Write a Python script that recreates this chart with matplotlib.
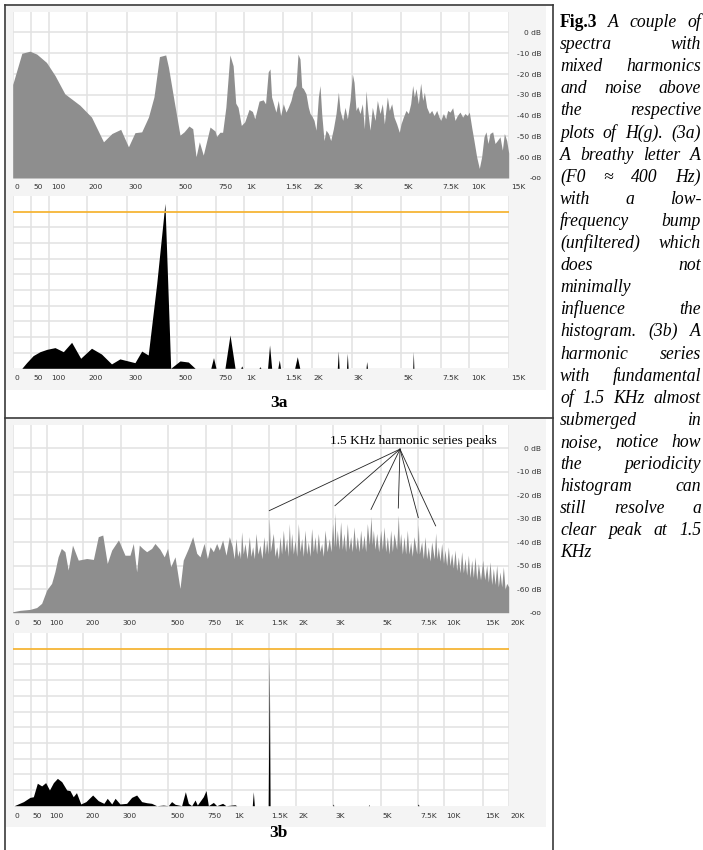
import matplotlib
matplotlib.use("Agg")
import matplotlib.pyplot as plt
import matplotlib.transforms as mtrans
import numpy as np
from matplotlib.patches import Rectangle

W, H = 703, 850

# analyser frequency grid: tick frequency (Hz) and its position across the plot (px)
ticks_a_hz = [0, 50, 100, 200, 300, 500, 750, 1000, 1500, 2000, 3000, 5000, 7500, 10000, 15000]
ticks_a_pos = [0, 18.3, 36.3, 74, 114, 164, 203.3, 231.3, 270.6, 299, 339, 388.3, 428, 456.6, 496]
ticks_a_lbl = ['0', '50', '100', '200', '300', '500', '750', '1K', '1.5K', '2K', '3K', '5K',
               '7.5K', '10K', '15K']

ticks_b_hz = [0, 50, 100, 200, 300, 500, 750, 1000, 1500, 2000, 3000, 5000, 7500, 10000, 15000, 20000]
ticks_b_pos = [0, 18, 34.6, 70.6, 108, 155.6, 193, 219.6, 256.6, 283.3, 320.6, 368, 405.6, 431.3,
               470, 496]
ticks_b_lbl = ['0', '50', '100', '200', '300', '500', '750', '1K', '1.5K', '2K', '3K', '5K',
               '7.5K', '10K', '15K', '20K']

db_ticks = [0, -10, -20, -30, -40, -50, -60]
db_labels = ['0 dB', '-10 dB', '-20 dB', '-30 dB', '-40 dB', '-50 dB', '-60 dB']

# (3a) breathy "A" spectrum
spec_a_hz = [0, 25, 47, 66, 93, 116, 142, 182, 212, 242,
             263, 285, 307, 333, 360, 387, 409, 431, 456, 467,
             487, 521, 547, 578, 602, 623, 644, 669, 712, 744,
             756, 785, 809, 838, 874, 903, 926, 947, 976, 1009,
             1064, 1107, 1137, 1192, 1244, 1274, 1308, 1331, 1351, 1381,
             1406, 1436, 1466, 1500, 1547, 1588, 1635, 1676, 1724, 1759,
             1794, 1824, 1853, 1900, 1941, 1971, 2000, 2058, 2108, 2167,
             2208, 2250, 2308, 2358, 2417, 2475, 2542, 2608, 2667, 2708,
             2775, 2833, 2892, 2958, 3027, 3095, 3176, 3243, 3338, 3432,
             3514, 3581, 3649, 3743, 3838, 3946, 4041, 4149, 4243, 4324,
             4446, 4527, 4622, 4716, 4824, 4932, 5000, 5147, 5315, 5462,
             5609, 5735, 5840, 5945, 6092, 6239, 6366, 6471, 6618, 6786,
             6933, 7080, 7248, 7395, 7500, 7733, 7936, 8110, 8314, 8547,
             8750, 8953, 9186, 9419, 9622, 9826, 10000, 10297, 10593, 10932,
             11271, 11568, 11864, 12119, 12373, 12627, 12966, 13263, 13559, 13898,
             14195, 14449, 14746, 15000]
spec_a_db = [-25, -10, -9, -10.4, -14.4, -20.7, -29.5, -35, -40.7, -52.6,
             -48.6, -46.6, -55, -48.2, -47.8, -40.7, -31, -11.6, -10.8, -16.7,
             -31, -49.4, -47.8, -45, -46.3, -59.8, -52.6, -59, -45.5, -47.4,
             -50, -48, -48, -36, -10.8, -16, -34, -36, -44.7, -43,
             -37, -38, -41.5, -33, -32.4, -34.3, -19, -17.5, -31, -35,
             -38.3, -32.7, -40, -34.3, -38.3, -36, -32.7, -28, -25.5, -10.4,
             -12.8, -26.3, -27, -29.5, -36, -39, -40, -42.3, -47, -31,
             -25.5, -39, -52, -47, -48.6, -52, -46.3, -39, -28.7, -37.5,
             -42.3, -36, -41.5, -32.7, -20, -24, -37.5, -35.6, -39, -34.3,
             -46.3, -28, -37.5, -47, -36, -42.3, -32.7, -39, -34.3, -44,
             -31, -37.5, -34.3, -40.7, -44, -48, -44, -40.7, -37.5, -39,
             -34.3, -25.5, -31, -27, -34.3, -24.4, -32.7, -28.7, -36, -39,
             -37.5, -40, -37.5, -40.7, -42.3, -39, -41.5, -37.5, -38.3, -36.2,
             -42.3, -40, -38.3, -40.7, -39, -40, -38.3, -45.5, -52, -59.8,
             -65.4, -59.8, -50.2, -47.8, -53.4, -48.6, -47.8, -53.4, -52, -50.2,
             -56.6, -48.6, -52, -58]

# (3a) periodicity histogram H(g)
hist_a_hz = [0, 25, 38, 56, 75, 94, 116, 138, 160, 184,
             212, 237, 262, 283, 333, 360, 386, 420, 453, 476,
             521, 574, 617, 717, 734, 750, 830, 875, 920, 970,
             980, 990, 1190, 1204, 1215, 1300, 1325, 1352, 1430, 1449,
             1465, 1700, 1746, 1790, 2640, 2665, 2685, 2870, 2890, 2910,
             3580, 3608, 3640, 5740, 5775, 5810, 15000]
hist_a_val = [0, 0, 0.036, 0.081, 0.106, 0.121, 0.132, 0.106, 0.166, 0.064,
              0.128, 0.091, 0.028, 0.06, 0.036, 0.11, 0.085, 0.54, 1.053, 0,
              0.047, 0.04, 0, 0, 0.068, 0, 0, 0.213, 0, 0,
              0.015, 0, 0, 0.01, 0, 0, 0.149, 0, 0, 0.053,
              0, 0, 0.074, 0, 0, 0.11, 0, 0, 0.096, 0,
              0, 0.043, 0, 0, 0.106, 0, 0]

# (3b) 1.5 KHz harmonic series in noise
spec_b_hz = [0, 20, 48, 68, 83, 98, 112, 121, 130, 139,
             149, 158, 170, 186, 209, 227, 240, 252, 264, 276,
             294, 318, 339, 353, 367, 378, 392, 409, 430, 444,
             465, 483, 497, 516, 545, 578, 600, 634, 663, 690,
             712, 739, 766, 791, 822, 853, 878, 909, 941, 972,
             1000, 1025, 1050, 1072, 1095, 1110, 1126, 1148, 1171, 1200,
             1230, 1252, 1275, 1298, 1320, 1347, 1374, 1400, 1428, 1446,
             1464, 1485, 1500, 1520, 1575, 1606, 1638, 1670, 1700, 1730,
             1763, 1795, 1825, 1850, 1875, 1897, 1919, 1950, 1981, 2020,
             2063, 2108, 2152, 2196, 2241, 2285, 2330, 2375, 2420, 2465,
             2509, 2553, 2598, 2643, 2688, 2732, 2777, 2835, 2893, 2937,
             2982, 3030, 3070, 3115, 3169, 3240, 3310, 3380, 3451, 3520,
             3592, 3660, 3732, 3800, 3873, 3943, 4014, 4085, 4155, 4225,
             4296, 4366, 4437, 4520, 4590, 4640, 4690, 4760, 4831, 4915,
             5000, 5110, 5221, 5330, 5442, 5553, 5664, 5775, 5885, 6060,
             6170, 6250, 6327, 6440, 6549, 6660, 6770, 6880, 6991, 7100,
             7212, 7400, 7500, 7600, 7825, 7990, 8149, 8310, 8474, 8640,
             8799, 9050, 9190, 9320, 9448, 9610, 9773, 9950, 10129, 10345,
             10560, 10775, 10991, 11206, 11422, 11637, 11853, 12068, 12284, 12500,
             12716, 12930, 13147, 13360, 13578, 13790, 14009, 14225, 14440, 14720,
             15000, 15385, 15769, 16090, 16410, 16730, 17051, 17370, 17692, 18010,
             18333, 18650, 18974, 19300, 19615, 20000]
spec_b_db = [-69.6, -69, -68.6, -67.8, -66, -60.4, -57.5, -52.6, -46.2, -42.6,
             -44, -51.8, -41.2, -47.6, -46.9, -47.3, -37.6, -36.9, -49, -43.3,
             -39, -45.5, -45.5, -40.5, -52.6, -41.2, -42.6, -44, -42.6, -40.5,
             -43, -46.2, -42.6, -50.4, -46.2, -59.7, -47.6, -42.6, -37.6, -44.7,
             -46.2, -40.5, -46.9, -41.9, -44, -40.5, -43.3, -39, -45.5, -37.6,
             -41.9, -47, -38.4, -46, -43.3, -47, -35.5, -45, -40.5, -47,
             -37.6, -46, -41.9, -47, -36.2, -45, -41.2, -47, -37.6, -45,
             -39, -45, -29.5, -44, -36.2, -46, -41.9, -47, -37.6, -45,
             -34.8, -44, -38.4, -46, -32, -44, -36.2, -45, -39, -46,
             -32, -44, -38.4, -46, -34.8, -45, -39.8, -46, -34.1, -44,
             -37.6, -45, -36.2, -44, -40.5, -46, -34.8, -44, -38.4, -44,
             -32, -42, -27.4, -42, -34.8, -43, -31.2, -43, -36.2, -44,
             -32, -43, -37.6, -44, -33.4, -43, -37.6, -44, -34.8, -43,
             -36.9, -44, -32, -41, -29, -41, -34.8, -43, -36.2, -44,
             -34.8, -43, -33.4, -44, -37.6, -45, -34.8, -44, -36.2, -43,
             -28.4, -42, -36.2, -45, -37.6, -45, -34.8, -45, -39.8, -46,
             -37.6, -45, -32.5, -45, -39.8, -47, -37.6, -47, -41.9, -48,
             -39.8, -47, -36, -47, -41.9, -48, -40.5, -49, -43.3, -50,
             -41.9, -50, -44.7, -51, -43.3, -52, -46.2, -53, -44, -53,
             -46.9, -54, -45.5, -55, -47.6, -55, -46.2, -56, -49, -56,
             -47.6, -56, -49.7, -57, -48.3, -58, -51.1, -58, -49.7, -59,
             -52.6, -59, -50.4, -60, -57.5, -59]

# harmonics pointed at by the annotation
peaks_b_hz = [1500, 3070, 4590, 6170, 7500, 9190]
peaks_b_db = [-29.5, -27.4, -29, -28.4, -32.5, -36]

hist_b_hz = [0, 4, 30, 48, 58, 70, 83, 95, 106, 117,
             128, 140, 154, 163, 172, 181, 193, 207, 225, 240,
             255, 264, 276, 285, 298, 325, 346, 367, 388, 409,
             430, 451, 479, 500, 522, 545, 589, 614, 634, 656,
             679, 694, 734, 753, 775, 822, 853, 909, 940, 1036,
             1060, 1270, 1284, 1298, 1485, 1500, 1515, 2980, 3000, 3020,
             4480, 4500, 4520, 7440, 7500, 7560, 20000]
hist_b_val = [0, 0, 0.026, 0.053, 0.057, 0.143, 0.126, 0.147, 0.1, 0.147,
              0.174, 0.153, 0.1, 0.096, 0.057, 0.083, 0.011, 0.026, 0.068, 0.032,
              0.015, 0.047, 0.011, 0.047, 0.011, 0.015, 0.053, 0.068, 0.026, 0.019,
              0.015, 0, 0.004, 0, 0.026, 0.009, 0, 0.089, 0.015, 0,
              0.036, 0.004, 0.057, 0.096, 0, 0.021, 0, 0.015, 0, 0.006,
              0, 0, 0.089, 0, 0, 0.951, 0, 0, 0.011, 0,
              0, 0.008, 0, 0, 0.011, 0, 0]

caption = [
    "Fig.3 A couple of", "spectra with", "mixed harmonics", "and noise above",
    "the respective", "plots of H(g). (3a)", "A breathy letter A", "(F0 \u2248 400 Hz)",
    "with a low-", "frequency bump", "(unfiltered) which", "does not", "minimally",
    "influence the", "histogram. (3b) A", "harmonic series", "with fundamental",
    "of 1.5 KHz almost", "submerged in", "noise, notice how", "the periodicity",
    "histogram can", "still resolve a", "clear peak at 1.5", "KHz",
]

SPEC_GRAY = '#8e8e8e'
GRID = '#e2e2e2'
ORANGE = '#f6b536'
LABEL = '#333333'
SERIF = ['Liberation Serif', 'DejaVu Serif']

fig = plt.figure(figsize=(W / 100, H / 100), dpi=100)

# background layer in pixel coordinates: frame, panels, captions
bg = fig.add_axes([0, 0, 1, 1])
bg.set_xlim(0, W)
bg.set_ylim(H, 0)
bg.axis('off')

for y0, y1 in [(5.5, 390), (419, 827)]:
    bg.add_patch(Rectangle((6, y0), 540, y1 - y0, facecolor='#f4f4f4', edgecolor='none'))

frame = dict(color='#3a3a3a', lw=1.2)
bg.plot([5.3, 552.7], [4.6, 4.6], **frame)
bg.plot([5.3, 5.3], [4.6, H], **frame)
bg.plot([552.7, 552.7], [4.6, H], **frame)
bg.plot([5.3, 552.7], [418, 418], **frame)

bg.text(279, 403, '3a', fontsize=12.5, fontweight='bold', family=SERIF, ha='center', va='center')
bg.text(278, 833, '3b', fontsize=12.5, fontweight='bold', family=SERIF, ha='center', va='center')


def panel_axes(x0, y0, x1, y1):
    return fig.add_axes([x0 / W, 1 - y1 / H, (x1 - x0) / W, (y1 - y0) / H])


def freq_axis(ax, hz, pos, labels, pad):
    fwd = lambda f: np.interp(f, hz, pos)
    inv = lambda p: np.interp(p, pos, hz)
    ax.set_xscale('function', functions=(fwd, inv))
    ax.set_xlim(hz[0], hz[-1])
    ax.set_xticks(hz, labels)
    ax.tick_params(axis='x', length=0, pad=pad, labelsize=5.4, labelcolor=LABEL)
    shift = mtrans.ScaledTranslation(2 / 100, 0, fig.dpi_scale_trans)
    for lbl in ax.get_xticklabels():
        lbl.set_ha('left')
        lbl.set_transform(lbl.get_transform() + shift)
    ax.grid(axis='x', color=GRID, lw=1.1)
    ax.set_axisbelow(True)
    for s in ax.spines.values():
        s.set_visible(False)
    ax.set_facecolor('white')


def spectrum(ax, hz, db, ticks_hz, ticks_pos, ticks_lbl, pad):
    freq_axis(ax, ticks_hz, ticks_pos, ticks_lbl, pad)
    ax.set_ylim(-70, 10)
    ax.yaxis.set_ticks_position('right')
    ax.set_yticks(db_ticks, db_labels)
    ax.set_yticks([-70], ['-oo'], minor=True)
    ax.tick_params(axis='y', which='both', length=0, pad=23.3, labelsize=5.4, labelcolor=LABEL)
    for lbl in ax.get_yticklabels() + ax.get_yticklabels(minor=True):
        lbl.set_ha('right')
    ax.grid(axis='y', which='major', color=GRID, lw=1.1)
    ax.fill_between(hz, db, -70, color=SPEC_GRAY, lw=0, zorder=2)


def histogram(ax, hz, val, ticks_hz, ticks_pos, ticks_lbl, pad):
    freq_axis(ax, ticks_hz, ticks_pos, ticks_lbl, pad)
    ax.set_ylim(0, 1.1)
    ax.set_yticks(np.arange(1, 10) / 10)
    ax.tick_params(axis='y', length=0, labelleft=False)
    ax.grid(axis='y', color=GRID, lw=1.1)
    ax.fill_between(hz, val, 0, color='black', lw=0, zorder=2)
    ax.axhline(1.0, color=ORANGE, lw=1.3, zorder=3)


ax_sa = panel_axes(12.7, 11.7, 508.7, 178)
spectrum(ax_sa, spec_a_hz, spec_a_db, ticks_a_hz, ticks_a_pos, ticks_a_lbl, 4)
ax_ha = panel_axes(12.7, 196, 508.7, 368.3)
histogram(ax_ha, hist_a_hz, hist_a_val, ticks_a_hz, ticks_a_pos, ticks_a_lbl, 5)

ax_sb = panel_axes(12.7, 425, 508.7, 612.7)
spectrum(ax_sb, spec_b_hz, spec_b_db, ticks_b_hz, ticks_b_pos, ticks_b_lbl, 5)
ax_hb = panel_axes(12.7, 633, 508.7, 805.7)
histogram(ax_hb, hist_b_hz, hist_b_val, ticks_b_hz, ticks_b_pos, ticks_b_lbl, 5)

# annotation fanning out to the harmonic peaks
apex_hz, apex_db = 6283, -0.3
for f, d in zip(peaks_b_hz, peaks_b_db):
    ax_sb.plot([apex_hz, f], [apex_db, d + 3], color='#222222', lw=0.6, zorder=4, clip_on=False)
ax_sb.text(7150, 1.9, '1.5 KHz harmonic series peaks', fontsize=9.6, family=SERIF,
           ha='center', va='baseline', zorder=5)

# justified caption column
renderer = fig.canvas.get_renderer()
cap_x0, cap_x1 = 560, 701
for i, line in enumerate(caption):
    y = 27 + i * 22.1
    words = line.split()
    texts = []
    for j, w in enumerate(words):
        bold = i == 0 and j == 0
        texts.append(bg.text(0, y, w, fontsize=12.7, family=SERIF,
                             fontweight='bold' if bold else 'normal',
                             fontstyle='normal' if bold else 'italic',
                             ha='left', va='baseline'))
    widths = [t.get_window_extent(renderer).width for t in texts]
    if len(words) > 1 and i < len(caption) - 1:
        gap = (cap_x1 - cap_x0 - sum(widths)) / (len(words) - 1)
    else:
        gap = 4.5
    x = cap_x0
    for t, w in zip(texts, widths):
        t.set_x(x)
        x += w + gap

fig.savefig('out.png', dpi=100)
